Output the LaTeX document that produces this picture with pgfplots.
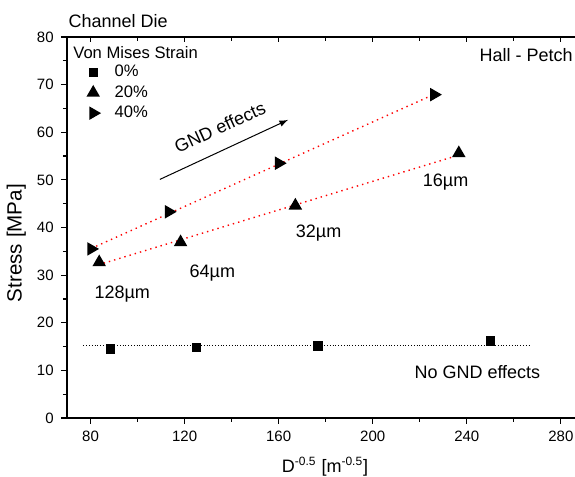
\documentclass[border=0pt]{standalone}
\usepackage{pgfplots}
\pgfplotsset{compat=1.18}
\usepackage{fontspec}
\setmainfont{Liberation Sans}

\begin{document}
\begin{tikzpicture}
\path[use as bounding box] (-33.5pt,-29.5pt) rectangle (254pt,209pt);
\begin{axis}[
    at={(0,0)}, anchor=south west,
    scale only axis,
    width=254pt, height=190.5pt,
    xmin=70, xmax=286, ymin=0, ymax=80,
    axis x line*=box, axis y line*=left,
    x axis line style={-}, y axis line style={-},
    xtick pos=bottom, ytick pos=left,
    xtick={80,120,...,280}, ytick={0,10,...,80},
    minor x tick num=1, minor y tick num=1,
    tick align=outside,
    major tick length=3pt, minor tick length=2pt,
    every axis/.append style={line width=0.7pt},
    every tick/.style={black, line width=0.6pt},
    tick label style={font=\fontsize{7.5}{9}\selectfont},
    /pgf/number format/assume math mode=true,
    clip=false,
    every axis y label/.style={at={(axis description cs:-0.1,0.459)}, rotate=90, anchor=center,
      font=\fontsize{10.3}{11}\selectfont},
    every axis x label/.style={at={(axis description cs:0.508,-0.128)}, anchor=center,
      font=\fontsize{9}{10}\selectfont},
    ylabel={Stress [MPa]},
    xlabel={D\textsuperscript{-0.5} [m\textsuperscript{-0.5}]},
    legend style={at={(axis cs:78.5,74.3)}, anchor=north west, draw=none, fill=none,
      inner sep=0pt, row sep=2.7pt,
      font=\fontsize{8.3}{9}\selectfont,
      nodes={inner sep=0pt, text height=6pt, text depth=1.5pt},
      /tikz/every odd column/.append style={column sep=7.5pt}},
    legend cell align=left,
  ]
  % Von Mises strain 0%
  \addplot[only marks, mark=square*, mark size=2pt, black]
    coordinates {(88.4,14.5) (125.0,14.8) (176.8,15.1) (250.0,16.2)};
  \addlegendentry{0\%}
  % 20%
  \addplot[only marks, mark=triangle*, mark size=3.2pt, black]
    coordinates {(83.7,32.7) (118.3,36.9) (167.1,44.6) (236.6,55.6)};
  \addlegendentry{20\%}
  % 40%
  \addplot[only marks, mark=triangle*, mark size=3.2pt, black,
    every mark/.append style={rotate=-90}]
    coordinates {(80.3,35.5) (113.3,43.3) (160.1,53.5) (226.1,67.9)};
  \addlegendentry{40\%}

  % fit lines
  \addplot[red, dotted, line width=0.7pt, forget plot]
    coordinates {(80.3,35.6) (224,67.5)};
  \addplot[red, dotted, line width=0.7pt, forget plot]
    coordinates {(85.6,32.5) (234.6,54.9)};
  \addplot[black, densely dotted, line width=0.4pt, forget plot]
    coordinates {(77,15.2) (267,15.2)};
  % GND arrow
  \addplot[black, line width=0.5pt, -latex, forget plot]
    coordinates {(109.5,50.1) (164,62.6)};

  \node[anchor=west, inner sep=0pt, font=\fontsize{8.3}{9}\selectfont] at (axis cs:72.4,76.8) {Von Mises Strain};
  \node[anchor=west, inner sep=0pt, font=\fontsize{9}{10}\selectfont] at (axis cs:70.4,83.3) {Channel Die};
  \node[anchor=east, inner sep=0pt, font=\fontsize{9}{10}\selectfont] at (axis cs:285.3,76.2) {Hall - Petch};
  \node[rotate=24.7, font=\fontsize{9}{10}\selectfont] at (axis cs:135,61.0) {GND effects};
  \node[font=\fontsize{9}{10}\selectfont] at (axis cs:93.5,26.0) {128µm};
  \node[font=\fontsize{9}{10}\selectfont] at (axis cs:131.8,30.4) {64µm};
  \node[font=\fontsize{9}{10}\selectfont] at (axis cs:177,38.8) {32µm};
  \node[font=\fontsize{9}{10}\selectfont] at (axis cs:231,49.6) {16µm};
  \node[font=\fontsize{9}{10}\selectfont] at (axis cs:244.5,9.7) {No GND effects};
\end{axis}
\begin{axis}[
    at={(0,0)}, anchor=south west,
    scale only axis,
    width=254pt, height=190.5pt,
    xmin=70, xmax=286, ymin=0, ymax=80,
    axis x line*=top, axis y line=none,
    x axis line style={-, line width=0.7pt},
    xtick={80,120,...,280}, minor x tick num=1,
    xticklabels={},
    tick align=inside,
    major tick length=2.5pt, minor tick length=2pt,
    every tick/.style={black, line width=0.6pt},
  ]
  \addplot[draw=none, forget plot] coordinates {(80,0)};
\end{axis}
\end{tikzpicture}
\end{document}
